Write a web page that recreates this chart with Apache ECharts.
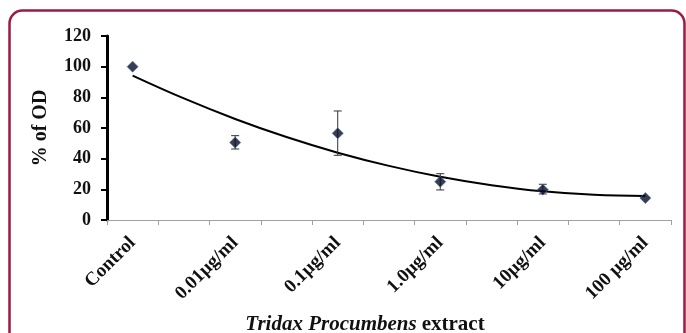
<!DOCTYPE html>
<html><head><meta charset="utf-8">
<script src="https://cdn.jsdelivr.net/npm/echarts@6/dist/echarts.min.js"></script>
<style>html,body{margin:0;padding:0;background:#fff}#c{width:686px;height:333px}</style>
</head><body><div id="c"></div>
<script>
// categories (blank slots are the in-between tick positions of the original)
const categories = ['Control','','0.01µg/ml','','0.1µg/ml','','1.0µg/ml','','10µg/ml','','100 µg/ml'];
// measured % of OD (null = no point at that slot)
const meanValues = [100, null, 50.5, null, 56.5, null, 25, null, 19.8, null, 14.3];
const errLow  = [null, null, 46.3, null, 42.2, null, 19.6, null, 17.0, null, null];
const errHigh = [null, null, 55.0, null, 71.1, null, 30.2, null, 23.3, null, null];
// trendline
const trendValues = [94.2, 79.3, 65.9, 54.1, 43.9, 35.3, 28.2, 22.7, 18.7, 16.4, 15.6];
const yTicks = {min: 0, max: 120, interval: 20};

const serif = '"Liberation Serif","DejaVu Serif",serif';
const chart = echarts.init(document.getElementById('c'), null, {renderer: 'canvas'});
const errData = [];
errLow.forEach((lo, i) => { if (lo != null) errData.push([i, lo, errHigh[i]]); });

chart.setOption({
  animation: false,
  title: {
    text: '{i|Tridax Procumbens} {b|extract}',
    left: 360, top: 309, textAlign: 'center',
    textStyle: {
      rich: {
        i: {fontFamily: serif, fontSize: 21, fontWeight: 'bold', fontStyle: 'italic', color: '#111'},
        b: {fontFamily: serif, fontSize: 21, fontWeight: 'bold', color: '#111'}
      }
    }
  },
  graphic: [{
    type: 'rect', silent: true,
    shape: {x: 9.5, y: 10.5, width: 675, height: 400, r: 13},
    style: {fill: 'none', stroke: '#9c1a47', lineWidth: 2.5}
  }],
  grid: {left: 107, right: 15, top: 36, bottom: 113},
  xAxis: {
    type: 'category', data: categories, boundaryGap: true,
    axisLine: {lineStyle: {color: '#a0a0a0', width: 1}},
    axisTick: {show: true, length: 5, lineStyle: {color: '#a0a0a0'}, interval: 0},
    axisLabel: {interval: 0, rotate: 45, margin: 20, color: '#111',
      fontFamily: serif, fontSize: 19, fontWeight: 'bold'},
    splitLine: {show: false}
  },
  yAxis: {
    type: 'value', min: yTicks.min, max: yTicks.max, interval: yTicks.interval,
    name: '% of OD', nameLocation: 'middle', nameRotate: 90, nameGap: 56,
    nameTextStyle: {fontFamily: serif, fontSize: 20, fontWeight: 'bold', color: '#111'},
    axisLine: {show: true, lineStyle: {color: '#000', width: 3}},
    axisTick: {show: true, length: 6, lineStyle: {color: '#000', width: 2}},
    axisLabel: {color: '#111', fontFamily: serif, fontSize: 18, fontWeight: 'bold', margin: 16},
    splitLine: {show: false}
  },
  series: [
    {
      type: 'line', data: trendValues, smooth: 0.4, symbol: 'none',
      lineStyle: {color: '#000', width: 2}, z: 2
    },
    {
      type: 'custom', data: errData, z: 3,
      renderItem: function (params, api) {
        const x = api.value(0);
        const lo = api.coord([x, api.value(1)]);
        const hi = api.coord([x, api.value(2)]);
        const w = 4;
        const st = {stroke: '#333', lineWidth: 1};
        return {type: 'group', children: [
          {type: 'line', shape: {x1: lo[0], y1: lo[1], x2: hi[0], y2: hi[1]}, style: st},
          {type: 'line', shape: {x1: lo[0]-w, y1: lo[1], x2: lo[0]+w, y2: lo[1]}, style: st},
          {type: 'line', shape: {x1: hi[0]-w, y1: hi[1], x2: hi[0]+w, y2: hi[1]}, style: st}
        ]};
      }
    },
    {
      type: 'scatter', data: meanValues, symbol: 'diamond', symbolSize: [11, 11], z: 4,
      itemStyle: {color: '#0b0b22', borderColor: '#3a6fb0', borderWidth: 0.8}
    }
  ]
});
</script></body></html>
